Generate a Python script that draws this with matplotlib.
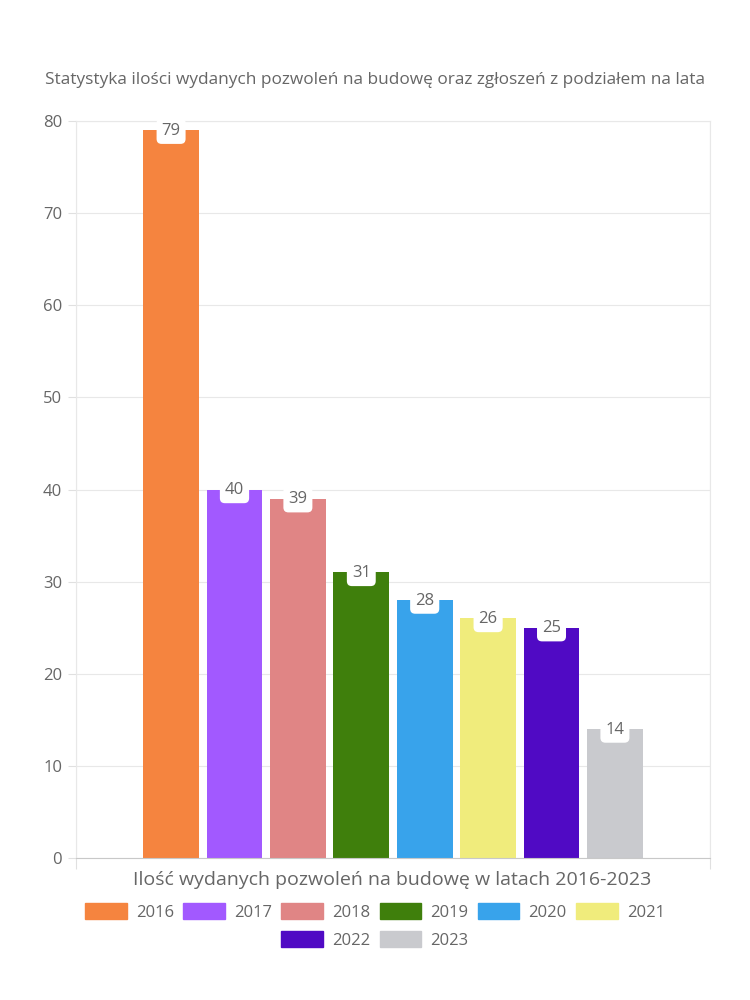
import matplotlib.pyplot as plt
from matplotlib.patches import Patch

plt.rcParams['font.family'] = ['Open Sans', 'DejaVu Sans']

lata = ['2016', '2017', '2018', '2019', '2020', '2021', '2022', '2023']
pozwolenia = [79, 40, 39, 31, 28, 26, 25, 14]
kolory = ['#F5843F', '#A259FF', '#E08585', '#3F7F0C',
          '#38A3EB', '#F0EC7C', '#500AC4', '#C9CACE']
yticks = [0, 10, 20, 30, 40, 50, 60, 70, 80]

szary = '#666666'

fig = plt.figure(figsize=(7.5, 10), dpi=100)
ax = fig.add_axes([0.1013, 0.142, 0.8454, 0.737])

x = list(range(len(lata)))
ax.bar(x, pozwolenia, width=0.88, color=kolory, zorder=2)

for xi, v in zip(x, pozwolenia):
    ax.annotate(str(v), (xi, v), xytext=(0, -0.5), textcoords='offset points',
                ha='center', va='center', fontsize=12, color=szary, zorder=3,
                bbox=dict(boxstyle='round,pad=0.3,rounding_size=0.3',
                          fc='white', ec='none'))

ax.set_xlim(-1.5, 8.5)
ax.set_ylim(0, 80)
ax.set_yticks(yticks)
ax.set_xticks([-1.5, 8.5])
ax.set_xticklabels(['', ''])
ax.tick_params(axis='y', length=6, color='#e0e0e0', labelsize=12, labelcolor=szary, pad=4)
ax.tick_params(axis='x', length=8, color='#e0e0e0')
ax.grid(True, color='#e8e8e8', linewidth=0.8, zorder=0)
for s in ['top', 'right', 'left']:
    ax.spines[s].set_color('#e8e8e8')
ax.spines['bottom'].set_color('#c8c8c8')

fig.text(0.5, 0.92, 'Statystyka ilości wydanych pozwoleń na budowę oraz zgłoszeń z podziałem na lata',
         ha='center', va='center', fontsize=12.4, color=szary)
fig.text(0.523, 0.12, 'Ilość wydanych pozwoleń na budowę w latach 2016-2023',
         ha='center', va='center', fontsize=14, color=szary)

uchwyty = [Patch(color=c, label=l) for c, l in zip(kolory, lata)]
opcje = dict(frameon=False, fontsize=12, handlelength=2.5, handleheight=1.1,
             columnspacing=0.55, handletextpad=0.55, labelcolor=szary)
leg1 = fig.legend(handles=uchwyty[:6], loc='center', bbox_to_anchor=(0.5, 0.088),
                  ncol=6, **opcje)
leg2 = fig.legend(handles=uchwyty[6:], loc='center', bbox_to_anchor=(0.5, 0.06),
                  ncol=2, **opcje)

fig.savefig('out.png', dpi=100)
